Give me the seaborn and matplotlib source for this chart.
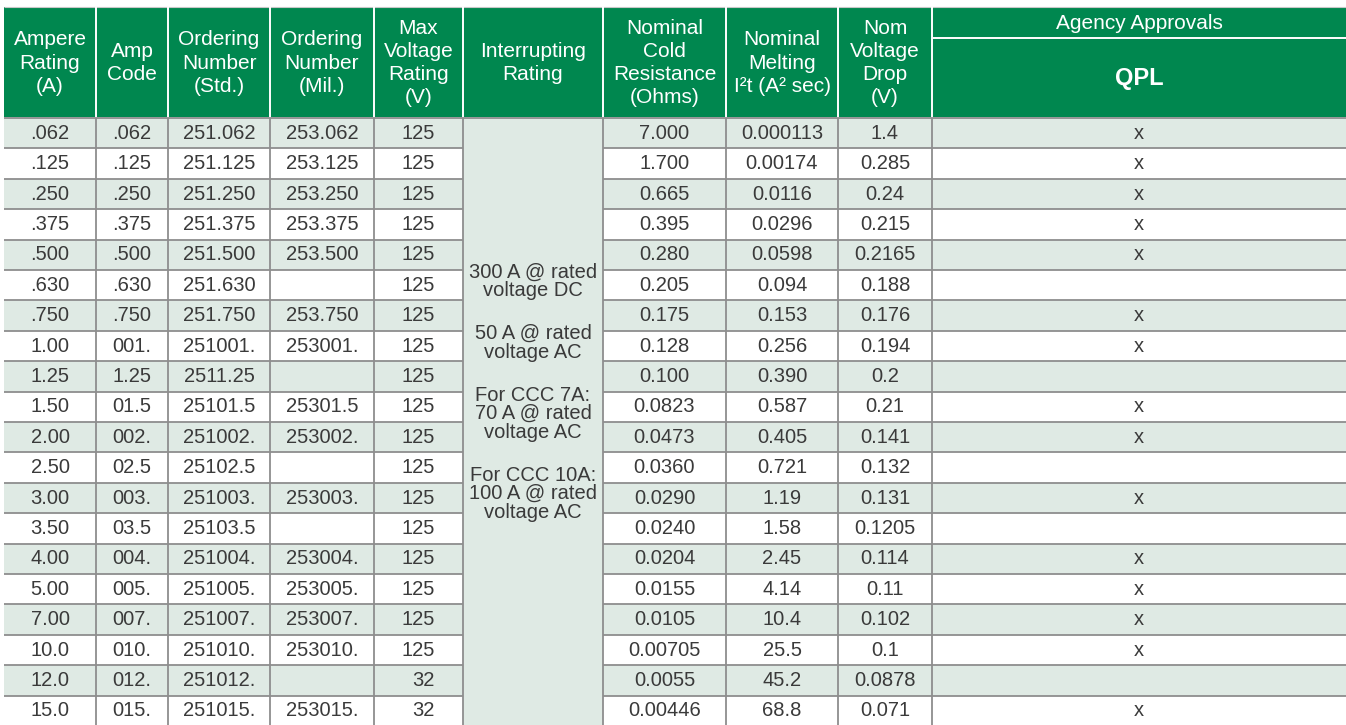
import matplotlib
matplotlib.use('Agg')
import matplotlib.pyplot as plt
import seaborn as sns

# table data, read row by row
amp_rating = ['.062', '.125', '.250', '.375', '.500', '.630', '.750', '1.00', '1.25', '1.50',
              '2.00', '2.50', '3.00', '3.50', '4.00', '5.00', '7.00', '10.0', '12.0', '15.0']
amp_code = ['.062', '.125', '.250', '.375', '.500', '.630', '.750', '001.', '1.25', '01.5',
            '002.', '02.5', '003.', '03.5', '004.', '005.', '007.', '010.', '012.', '015.']
order_std = ['251.062', '251.125', '251.250', '251.375', '251.500', '251.630', '251.750', '251001.',
             '2511.25', '25101.5', '251002.', '25102.5', '251003.', '25103.5', '251004.', '251005.',
             '251007.', '251010.', '251012.', '251015.']
order_mil = ['253.062', '253.125', '253.250', '253.375', '253.500', '', '253.750', '253001.',
             '', '25301.5', '253002.', '', '253003.', '', '253004.', '253005.',
             '253007.', '253010.', '', '253015.']
max_voltage = ['125'] * 18 + ['32', '32']
cold_res = ['7.000', '1.700', '0.665', '0.395', '0.280', '0.205', '0.175', '0.128', '0.100', '0.0823',
            '0.0473', '0.0360', '0.0290', '0.0240', '0.0204', '0.0155', '0.0105', '0.00705', '0.0055', '0.00446']
melting_i2t = ['0.000113', '0.00174', '0.0116', '0.0296', '0.0598', '0.094', '0.153', '0.256', '0.390', '0.587',
               '0.405', '0.721', '1.19', '1.58', '2.45', '4.14', '10.4', '25.5', '45.2', '68.8']
volt_drop = ['1.4', '0.285', '0.24', '0.215', '0.2165', '0.188', '0.176', '0.194', '0.2', '0.21',
             '0.141', '0.132', '0.131', '0.1205', '0.114', '0.11', '0.102', '0.1', '0.0878', '0.071']
qpl = ['x', 'x', 'x', 'x', 'x', '', 'x', 'x', '', 'x', 'x', '', 'x', '', 'x', 'x', 'x', 'x', '', 'x']

interrupting = [['300 A @ rated', 'voltage DC'],
                ['50 A @ rated', 'voltage AC'],
                ['For CCC 7A:', '70 A @ rated', 'voltage AC'],
                ['For CCC 10A:', '100 A @ rated', 'voltage AC']]

headers = ['Ampere\nRating\n(A)', 'Amp\nCode', 'Ordering\nNumber\n(Std.)', 'Ordering\nNumber\n(Mil.)',
           'Max\nVoltage\nRating\n(V)', 'Interrupting\nRating', 'Nominal\nCold\nResistance\n(Ohms)',
           'Nominal\nMelting\nI²t (A² sec)', 'Nom\nVoltage\nDrop\n(V)']

sns.set_theme(style='white')
plt.rcParams['font.family'] = ['Liberation Sans', 'DejaVu Sans']

GREEN = '#00874f'
STRIPE = '#dfeae4'
GRID = '#8e8e8e'
TEXT = '#3a3a3a'

col_edges = [4, 96, 168, 270, 374, 463, 603, 726, 838, 932, 1346]
head_top, head_bot = 7, 117
row_top, row_h = 118, 30.4
bottom = 725
INT_COL = 5

fig = plt.figure(figsize=(13.46, 7.25), dpi=100)
ax = fig.add_axes([0, 0, 1, 1])
ax.set_xlim(0, 1346)
ax.set_ylim(bottom, 0)
ax.axis('off')

# header band
ax.barh((head_top + head_bot) / 2, col_edges[-1] - col_edges[0], left=col_edges[0],
        height=head_bot - head_top, color=GREEN, linewidth=0)
ax.hlines(head_top, col_edges[0], col_edges[-1], color='#c8c8c8', lw=0.8)
ax.vlines(col_edges[1:-1], head_top, head_bot, color='white', lw=1.4)
ax.hlines(38, col_edges[9], col_edges[-1], color='white', lw=1.4)

hy = (head_top + head_bot) / 2
for j, h in enumerate(headers):
    cx = (col_edges[j] + col_edges[j + 1]) / 2
    ax.text(cx, hy + 1, h, ha='center', va='center', color='white', fontsize=15, linespacing=1.28)
cx = (col_edges[9] + col_edges[10]) / 2
ax.text(cx, 23, 'Agency Approvals', ha='center', va='center', color='white', fontsize=15)
ax.text(cx, 78, 'QPL', ha='center', va='center', color='white', fontsize=17, fontweight='bold')

# body stripes and cell text
columns = [amp_rating, amp_code, order_std, order_mil, max_voltage, None,
           cold_res, melting_i2t, volt_drop, qpl]
n = len(amp_rating)
for i in range(n):
    yc = row_top + (i + 0.5) * row_h
    if i % 2 == 0:
        ax.barh(yc, col_edges[INT_COL] - col_edges[0], left=col_edges[0], height=row_h,
                color=STRIPE, linewidth=0)
        ax.barh(yc, col_edges[-1] - col_edges[INT_COL + 1], left=col_edges[INT_COL + 1],
                height=row_h, color=STRIPE, linewidth=0)
    for j, col in enumerate(columns):
        if col is None:
            continue
        if j == 4:
            ax.text(col_edges[j + 1] - 28, yc, col[i], ha='right', va='center',
                    color=TEXT, fontsize=14.5)
        else:
            cx = (col_edges[j] + col_edges[j + 1]) / 2
            ax.text(cx, yc, col[i], ha='center', va='center', color=TEXT, fontsize=14.5)

# merged interrupting rating column
ax.barh((row_top + bottom) / 2, col_edges[INT_COL + 1] - col_edges[INT_COL],
        left=col_edges[INT_COL], height=bottom - row_top, color=STRIPE, linewidth=0)
cx = (col_edges[INT_COL] + col_edges[INT_COL + 1]) / 2
k = 0
for p, para in enumerate(interrupting):
    for line in para:
        ax.text(cx, 272 + 18.5 * k + 24.5 * p, line, ha='center', va='center',
                color=TEXT, fontsize=14.5)
        k += 1

# grid lines
ax.hlines(row_top, col_edges[0], col_edges[-1], color=GRID, lw=1.3)
for i in range(1, n + 1):
    y = row_top + i * row_h
    ax.hlines(y, col_edges[0], col_edges[INT_COL], color=GRID, lw=1.3)
    ax.hlines(y, col_edges[INT_COL + 1], col_edges[-1], color=GRID, lw=1.3)
ax.vlines(col_edges[1:-1], row_top, bottom, color=GRID, lw=1.3)

fig.savefig('out.png', dpi=100)
